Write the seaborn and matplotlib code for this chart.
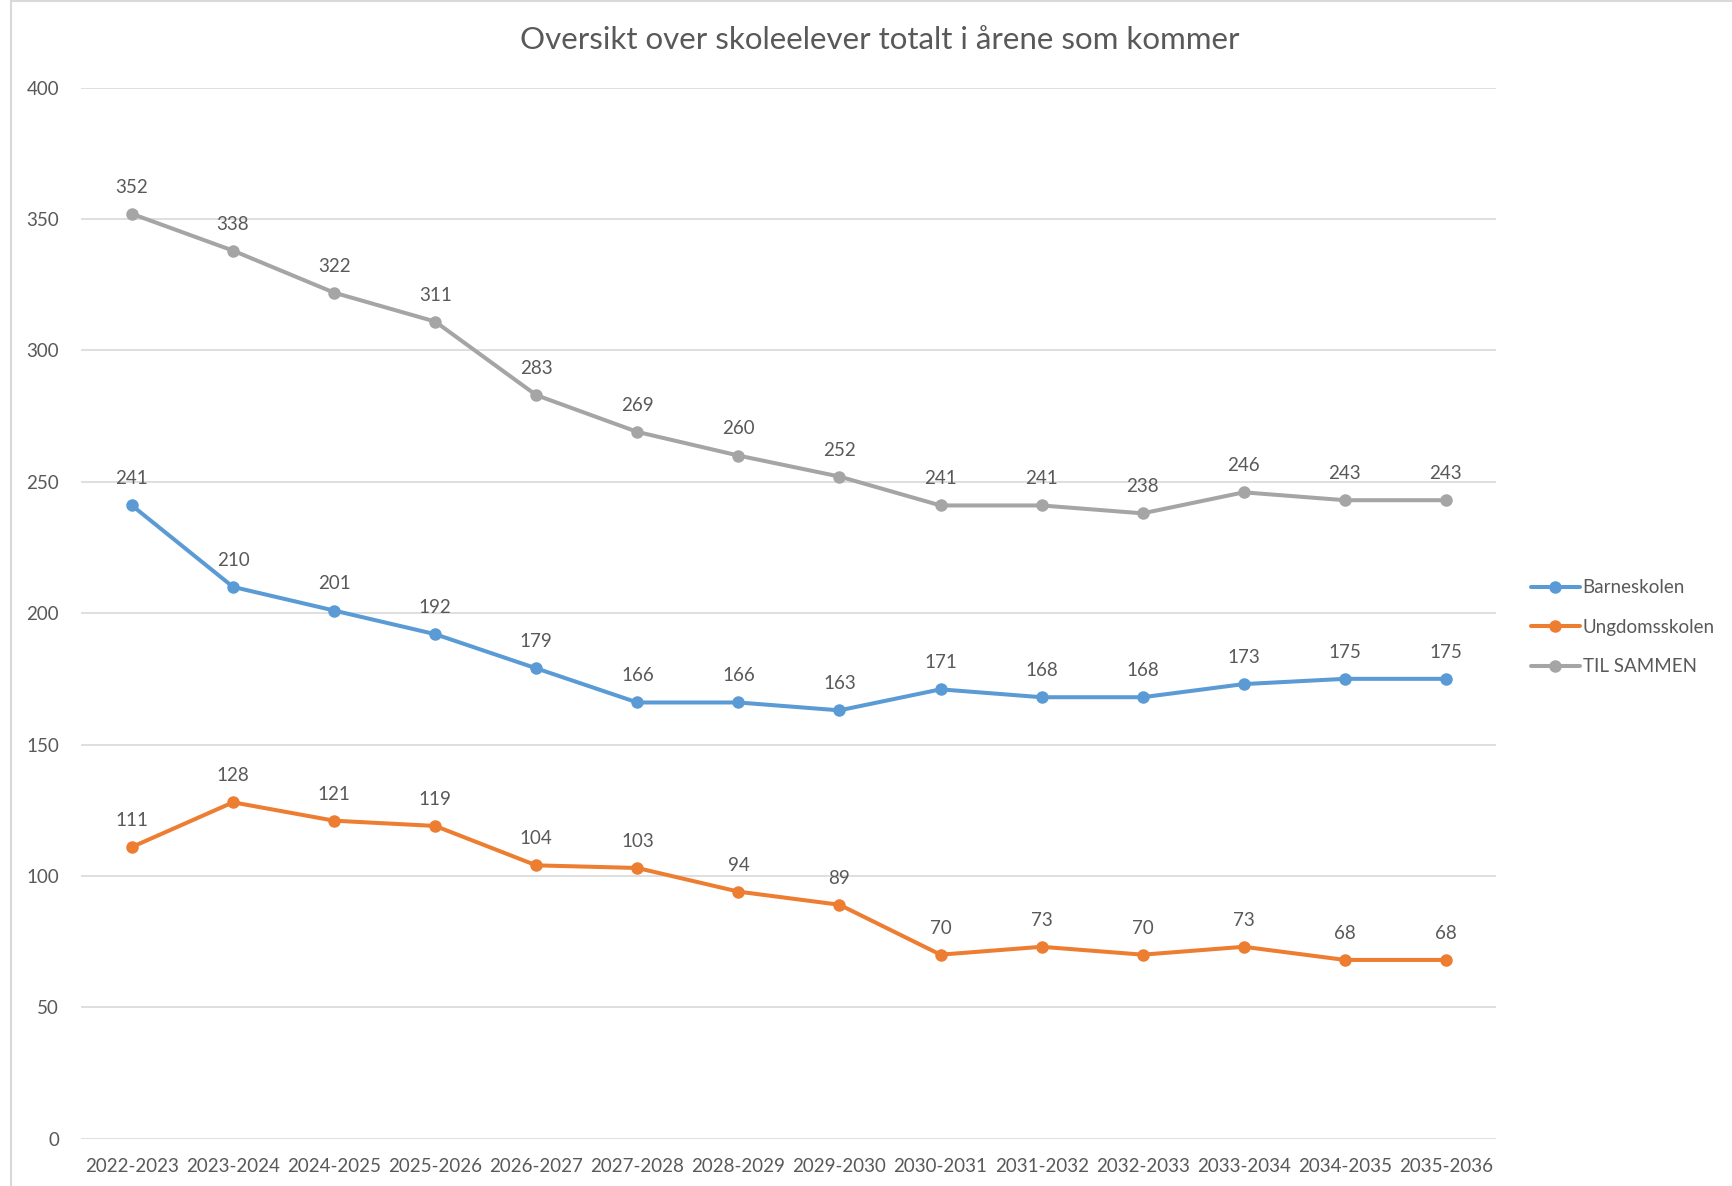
import matplotlib
matplotlib.use("Agg")
import matplotlib.pyplot as plt
import seaborn as sns
import pandas as pd
from matplotlib.patches import Rectangle

# Data:
years = ["2022-2023", "2023-2024", "2024-2025", "2025-2026", "2026-2027", "2027-2028", "2028-2029",
         "2029-2030", "2030-2031", "2031-2032", "2032-2033", "2033-2034", "2034-2035", "2035-2036"]
barneskolen = [241, 210, 201, 192, 179, 166, 166, 163, 171, 168, 168, 173, 175, 175]
ungdomsskolen = [111, 128, 121, 119, 104, 103, 94, 89, 70, 73, 70, 73, 68, 68]
til_sammen = [352, 338, 322, 311, 283, 269, 260, 252, 241, 241, 238, 246, 243, 243]

series_names = ["Barneskolen", "Ungdomsskolen", "TIL SAMMEN"]
series_values = [barneskolen, ungdomsskolen, til_sammen]
colors = ["#5B9BD5", "#ED7D31", "#A5A5A5"]

# Long format for seaborn:
rows = []
for name, vals in zip(series_names, series_values):
    for yr, v in zip(years, vals):
        rows.append({"År": yr, "Elever": v, "Skole": name})
df = pd.DataFrame(rows)

sns.set_style("white")
plt.rcParams["font.family"] = ["Lato", "DejaVu Sans"]
text_color = "#595959"

fig = plt.figure(figsize=(17.32, 11.86), dpi=100)
ax = fig.add_axes([0.047, 0.040, 0.817, 0.886])

sns.lineplot(data=df, x="År", y="Elever", hue="Skole", palette=colors, sort=False,
             marker="o", markersize=9, markeredgewidth=0, linewidth=2.9, ax=ax, legend=True)

# Data labels above each point:
for vals in series_values:
    for i, v in enumerate(vals):
        ax.annotate(str(v), (i, v), xytext=(0, 13), textcoords="offset points",
                    ha="center", va="bottom", fontsize=13.5, color=text_color)

ax.set_ylim(0, 400)
ax.set_xlim(-0.5, len(years) - 0.5)
ax.set_yticks(range(0, 401, 50))
ax.yaxis.grid(True, color="#D9D9D9", linewidth=1.2)
ax.xaxis.grid(False)
for s in ax.spines.values():
    s.set_visible(False)
ax.tick_params(axis="y", length=0, pad=16, labelsize=13.5, labelcolor=text_color)
ax.tick_params(axis="x", length=0, pad=14, labelsize=13.5, labelcolor=text_color)
ax.set_xlabel("")
ax.set_ylabel("")

# Legend on the right:
handles, labels = ax.get_legend_handles_labels()
ax.get_legend().remove()
fig.legend(handles, labels, loc="center left", bbox_to_anchor=(0.884, 0.471), frameon=False,
           fontsize=13.5, handlelength=2.6, handletextpad=0.15, labelspacing=1.2,
           borderpad=0, borderaxespad=0, labelcolor=text_color)

fig.text(0.508, 0.966, "Oversikt over skoleelever totalt i årene som kommer",
         ha="center", va="center", fontsize=22.5, color=text_color)

# Chart border (left and top visible):
fig.patches.append(Rectangle((0.0065, -0.01), 1.1, 1.009, transform=fig.transFigure,
                             fill=False, edgecolor="#D9D9D9", linewidth=1.5))

fig.savefig("out.png", dpi=100)
